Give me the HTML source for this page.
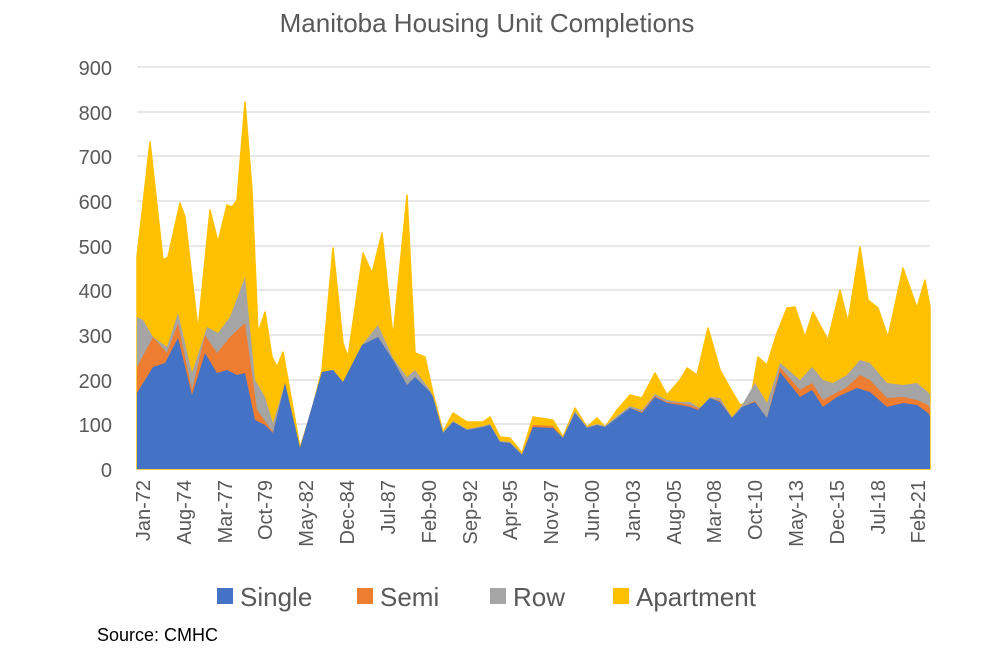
<!DOCTYPE html>
<html><head><style>body{margin:0;background:#fff}svg{display:block}text{font-family:"Liberation Sans",sans-serif}</style></head>
<body>
<svg width="1000" height="650" viewBox="0 0 1000 650">
<text x="487" y="32" font-size="26" fill="#595959" text-anchor="middle">Manitoba Housing Unit Completions</text>
<g stroke="#d9d9d9" stroke-width="1.3">
<line x1="137" x2="930" y1="67" y2="67"/><line x1="137" x2="930" y1="112" y2="112"/><line x1="137" x2="930" y1="156" y2="156"/><line x1="137" x2="930" y1="201" y2="201"/><line x1="137" x2="930" y1="246" y2="246"/><line x1="137" x2="930" y1="290" y2="290"/><line x1="137" x2="930" y1="335" y2="335"/><line x1="137" x2="930" y1="380" y2="380"/><line x1="137" x2="930" y1="424" y2="424"/><line x1="137" x2="930" y1="469" y2="469"/>
</g>
<g font-size="20" fill="#595959" text-anchor="end">
<text x="112" y="75">900</text><text x="112" y="120">800</text><text x="112" y="164">700</text><text x="112" y="209">600</text><text x="112" y="254">500</text><text x="112" y="298">400</text><text x="112" y="343">300</text><text x="112" y="388">200</text><text x="112" y="432">100</text><text x="112" y="477">0</text>
</g>
<g stroke-linejoin="round">
<polygon fill="#ffc000" stroke="#ffc000" stroke-width="1.5" points="137,469 137,257 150,142 163,260 168,257 180,203 185,217 198,330 210,210 218,242 227,205 232,207 237,200 245,102 252,190 258,333 265,312 272,357 277,367 283,352 288,380 300,448 312,410 322,370 333,248 343,343 348,357 363,253 372,273 382,233 393,337 407,195 415,353 425,357 433,393 443,432 453,413 467,422 483,422 490,417 500,437 510,438 522,453 533,417 553,420 563,437 575,408 587,427 597,418 605,427 617,410 630,395 642,398 655,373 667,395 680,380 687,368 697,375 708,328 720,370 730,388 740,405 750,402 758,357 767,365 777,333 787,308 795,307 805,337 813,312 828,340 840,290 848,322 860,247 868,300 878,308 888,337 903,268 917,308 925,280 930,307 930,469"/>
<polygon fill="#a5a5a5" points="137,469 137,317 143,320 153,337 167,347 178,313 192,373 207,327 218,333 230,317 245,277 255,380 265,397 273,423 285,383 300,448 322,372 333,370 343,382 362,345 378,325 393,358 407,377 415,370 430,390 433,396 443,432 453,421 467,429 483,426 490,424 500,441 510,442 522,454 533,425 553,427 563,437 575,411 587,427 597,424 605,426 617,416 630,406 642,410 655,394 667,400 680,402 690,402 700,408 710,397 720,398 732,417 742,405 755,383 767,403 780,363 785,367 800,380 812,367 823,380 833,383 847,375 860,360 870,363 887,383 903,385 917,383 928,392 930,395 930,469"/>
<polygon fill="#ed7d31" points="137,469 137,367 153,337 167,353 178,323 192,390 205,335 217,353 230,337 245,323 257,410 273,432 285,383 300,448 322,372 333,370 343,382 362,345 378,337 393,360 407,385 415,377 430,392 433,397 443,433 453,422 467,430 483,427 490,425 500,442 510,443 522,455 533,425 553,426 563,438 575,413 587,428 597,425 605,427 617,418 630,408 642,412 655,396 667,402 680,403 690,405 700,409 710,398 720,401 732,418 742,407 755,401 767,418 780,367 800,390 812,383 823,400 847,387 860,375 870,380 887,398 903,397 917,400 928,405 930,409 930,469"/>
<polygon fill="#4472c4" points="137,469 137,393 153,367 165,363 178,338 192,395 205,353 217,373 227,370 237,375 245,373 255,420 265,425 273,433 285,383 300,448 322,372 333,370 343,382 362,345 378,337 393,360 407,385 415,377 430,392 433,397 443,433 453,422 467,430 483,427 490,425 500,442 510,443 522,455 533,427 553,428 563,438 575,413 587,428 597,425 605,427 617,418 630,408 642,413 655,397 667,403 680,405 690,407 698,410 710,398 720,402 732,418 742,407 755,402 767,418 780,372 800,397 812,390 823,407 837,397 857,388 870,392 887,407 903,403 917,405 928,413 930,416 930,469"/>
</g>
<g font-size="20" fill="#595959" text-anchor="end">
<text transform="translate(150,480) rotate(-90)">Jan-72</text>
<text transform="translate(191,480) rotate(-90)">Aug-74</text>
<text transform="translate(232,480) rotate(-90)">Mar-77</text>
<text transform="translate(272,480) rotate(-90)">Oct-79</text>
<text transform="translate(313,480) rotate(-90)">May-82</text>
<text transform="translate(354,480) rotate(-90)">Dec-84</text>
<text transform="translate(395,480) rotate(-90)">Jul-87</text>
<text transform="translate(436,480) rotate(-90)">Feb-90</text>
<text transform="translate(477,480) rotate(-90)">Sep-92</text>
<text transform="translate(517,480) rotate(-90)">Apr-95</text>
<text transform="translate(558,480) rotate(-90)">Nov-97</text>
<text transform="translate(599,480) rotate(-90)">Jun-00</text>
<text transform="translate(640,480) rotate(-90)">Jan-03</text>
<text transform="translate(681,480) rotate(-90)">Aug-05</text>
<text transform="translate(721,480) rotate(-90)">Mar-08</text>
<text transform="translate(762,480) rotate(-90)">Oct-10</text>
<text transform="translate(803,480) rotate(-90)">May-13</text>
<text transform="translate(844,480) rotate(-90)">Dec-15</text>
<text transform="translate(885,480) rotate(-90)">Jul-18</text>
<text transform="translate(925,480) rotate(-90)">Feb-21</text>
</g>
<g font-size="26" fill="#595959">
<rect x="217" y="588" width="16" height="16" fill="#4472c4"/><text x="240" y="606">Single</text>
<rect x="357" y="588" width="16" height="16" fill="#ed7d31"/><text x="380" y="606">Semi</text>
<rect x="490" y="588" width="16" height="16" fill="#a5a5a5"/><text x="513" y="606">Row</text>
<rect x="613" y="588" width="16" height="16" fill="#ffc000"/><text x="636" y="606">Apartment</text>
</g>
<text x="97" y="641" font-size="18" fill="#000">Source: CMHC</text>
</svg>
</body></html>
